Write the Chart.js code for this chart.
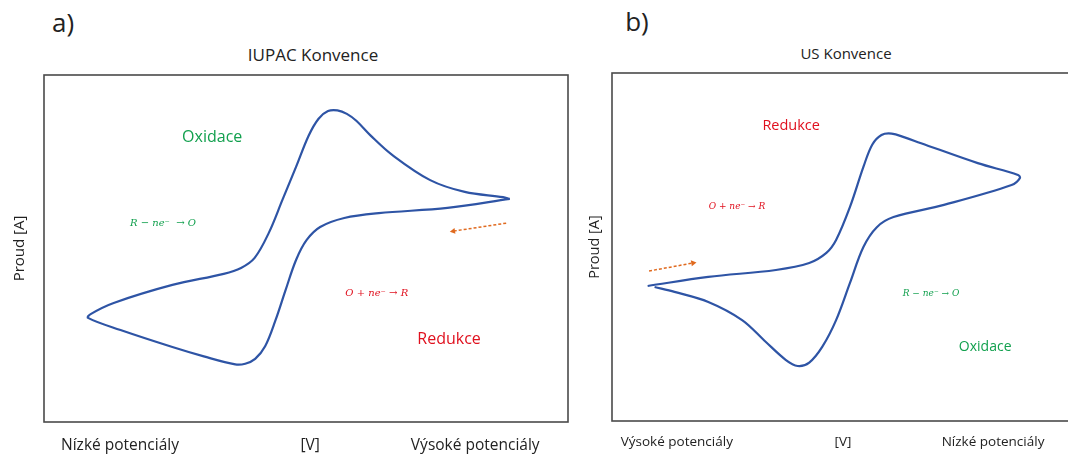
<!DOCTYPE html>
<html>
<head>
<meta charset="utf-8">
<script src="https://cdn.jsdelivr.net/npm/chart.js@4.4.1/dist/chart.umd.min.js"></script>
<style>
  body { margin: 0; width: 1068px; height: 457px; overflow: hidden; background: #fff; position: relative; font-family: "Open Sans", sans-serif; }
  .box { position: absolute; top: 0; height: 457px; }
  .lbl { position: absolute; color: #222; white-space: nowrap; transform: translate(-50%, -50%); }
</style>
</head>
<body>
<div class="lbl" style="left:63px; top:22px; font-size:26px;">a)</div>
<div class="lbl" style="left:637px; top:21px; font-size:26px;">b)</div>
<div class="lbl" style="left:313px; top:54px; font-size:17px;">IUPAC Konvence</div>
<div class="lbl" style="left:846px; top:53px; font-size:15px;">US Konvence</div>

<div class="box" style="left:0; width:600px;"><canvas id="chartA"></canvas></div>
<div class="box" style="left:570px; width:540px;"><canvas id="chartB"></canvas></div>

<script>
// ---- data (relative potential 0-100, relative current 0-100) ----

// a) IUPAC: sweep starts at high potential, goes down on lower branch, back on upper
const aPotential = [88.9, 77.0, 63.9, 57.3, 52.7, 50.1, 48.1, 46.1, 44.2, 42.2, 40.3, 38.4, 36.5, 30.5, 24.5, 14.6, 8.4,
                    8.9, 13.3, 24.5, 34.3, 37.6, 40.2, 42.9, 45.5, 48.1, 50.5, 52.4, 54.2, 56.0, 57.8, 59.6, 62.3, 66.5, 73.7, 80.3, 87.6, 88.9];
const aCurrent   = [64.3, 61.7, 60.2, 58.8, 56.2, 52.4, 46.7, 38.0, 29.4, 21.8, 18.2, 16.8, 16.6, 18.9, 21.6, 26.5, 30.0,
                    31.1, 34.3, 39.5, 42.7, 44.4, 47.3, 54.5, 64.0, 73.5, 82.5, 87.4, 89.6, 89.8, 88.8, 86.8, 82.6, 76.9, 69.7, 66.3, 64.8, 64.3];
const aArrowPotential = [88.2, 78.1];
const aArrowCurrent   = [57.3, 55.0];

// b) US: potential axis reversed (high potential on the left)
const bPotential = [92.3, 79.2, 64.6, 57.4, 53.7, 51.6, 48.6, 45.7, 43.8, 41.8, 39.6, 36.8, 33.4, 21.0, 12.3, 11.9,
                    13.7, 28.3, 39.2, 42.8, 45.7, 48.6, 51.6, 54.6, 57.4, 59.9, 62.5, 67.0, 71.9, 79.2, 86.5, 90.8];
const bCurrent   = [38.8, 41.4, 43.4, 45.4, 48.3, 52.0, 61.5, 73.0, 79.4, 82.2, 82.6, 81.5, 79.9, 74.1, 70.7, 69.8,
                    67.8, 62.1, 58.6, 55.7, 50.0, 39.7, 29.0, 21.3, 16.8, 15.8, 17.6, 23.0, 29.0, 34.2, 37.1, 38.5];
const bArrowPotential = [92.0, 82.5];
const bArrowCurrent   = [43.1, 45.4];

// x axis labels
const aTickLabels = ['Nízké potenciály', '[V]', 'Výsoké potenciály'];
const aTickValues = [14.5, 50.8, 82.3];
const bTickLabels = ['Výsoké potenciály', '[V]', 'Nízké potenciály'];
const bTickValues = [86.0, 50.1, 17.7];

const blue = '#2e54a5';
const orange = '#e06a1f';
const green = '#12a04e';
const red = '#e0101e';

function pts(xs, ys) {
  return xs.map((v, i) => ({ x: v, y: ys[i] }));
}

// frame round the plot + text notes placed in data units
const extras = {
  id: 'extras',
  afterDatasetsDraw(chart, args, opts) {
    const { ctx, chartArea: c, scales: { x, y } } = chart;
    ctx.save();
    ctx.strokeStyle = '#4a4a4a';
    ctx.lineWidth = 1.6;
    ctx.strokeRect(c.left, c.top, c.right - c.left, c.bottom - c.top);
    ctx.textAlign = 'center';
    ctx.textBaseline = 'middle';
    (opts.notes || []).forEach(n => {
      ctx.font = n.font;
      ctx.fillStyle = n.color;
      ctx.fillText(n.text, x.getPixelForValue(n.x), y.getPixelForValue(n.y));
    });
    ctx.restore();
  }
};

function makeChart(id, s) {
  return new Chart(document.getElementById(id), {
    type: 'scatter',
    data: {
      datasets: [{
        data: pts(s.xs, s.ys),
        showLine: true,
        borderColor: blue,
        borderWidth: 2.2,
        pointRadius: 0,
        tension: 0.35
      }, {
        data: pts(s.arrowX, s.arrowY),
        showLine: true,
        borderColor: orange,
        borderWidth: 1.5,
        borderDash: [3, 2],
        pointStyle: 'triangle',
        pointRadius: [0, 3.5],
        rotation: [0, s.arrowRot],
        pointBackgroundColor: orange,
        pointBorderWidth: 0,
        tension: 0
      }]
    },
    options: {
      responsive: true,
      maintainAspectRatio: false,
      animation: false,
      layout: { padding: s.padding },
      plugins: {
        legend: { display: false },
        tooltip: { enabled: false },
        extras: { notes: s.notes }
      },
      scales: {
        x: {
          type: 'linear',
          min: 0,
          max: 100,
          reverse: s.reverse,
          grid: { display: false, drawTicks: false },
          border: { display: false },
          afterBuildTicks: scale => { scale.ticks = s.tickValues.map(v => ({ value: v })); },
          afterFit: scale => { scale.height = s.xHeight; },
          ticks: {
            autoSkip: false,
            maxRotation: 0,
            minRotation: 0,
            padding: s.tickPad,
            color: '#222',
            font: { family: 'Open Sans', size: s.tickSize },
            callback: (v, i) => s.tickLabels[i]
          }
        },
        y: {
          min: 0,
          max: 100,
          grid: { display: false, drawTicks: false },
          border: { display: false },
          ticks: { display: false },
          afterFit: scale => { scale.width = s.yWidth; },
          title: {
            display: true,
            text: 'Proud [A]',
            color: '#222',
            padding: { top: s.titlePad, bottom: 0 },
            font: { family: 'Open Sans', size: s.titleSize }
          }
        }
      }
    },
    plugins: [extras]
  });
}

makeChart('chartA', {
  xs: aPotential, ys: aCurrent,
  arrowX: aArrowPotential, arrowY: aArrowCurrent, arrowRot: -99,
  reverse: false,
  tickValues: aTickValues, tickLabels: aTickLabels,
  padding: { top: 75, right: 32, bottom: 0, left: 0 },
  xHeight: 35, yWidth: 44, tickPad: 14, tickSize: 15.5,
  titlePad: 11, titleSize: 15,
  notes: [
    { text: 'Oxidace', x: 32.1, y: 82.1, color: green, font: '16px "Open Sans"' },
    { text: 'R − ne⁻  → O', x: 22.7, y: 57.3, color: green, font: 'italic 10px "DejaVu Serif"' },
    { text: 'O + ne⁻ → R', x: 63.5, y: 37.2, color: red, font: 'italic 10px "DejaVu Serif"' },
    { text: 'Redukce', x: 77.3, y: 23.9, color: red, font: '16px "Open Sans"' }
  ]
});

makeChart('chartB', {
  xs: bPotential, ys: bCurrent,
  arrowX: bArrowPotential, arrowY: bArrowCurrent, arrowRot: 80,
  reverse: true,
  tickValues: bTickValues, tickLabels: bTickLabels,
  padding: { top: 73, right: 35, bottom: 0, left: 0 },
  xHeight: 36, yWidth: 42, tickPad: 13, tickSize: 13.5,
  titlePad: 16, titleSize: 14.5,
  notes: [
    { text: 'Redukce', x: 61.3, y: 84.8, color: red, font: '14.5px "Open Sans"' },
    { text: 'O + ne⁻ → R', x: 73.0, y: 61.5, color: red, font: 'italic 9px "DejaVu Serif"' },
    { text: 'R − ne⁻ → O', x: 31.1, y: 36.5, color: green, font: 'italic 9px "DejaVu Serif"' },
    { text: 'Oxidace', x: 19.4, y: 21.3, color: green, font: '14px "Open Sans"' }
  ]
});
</script>
</body>
</html>
